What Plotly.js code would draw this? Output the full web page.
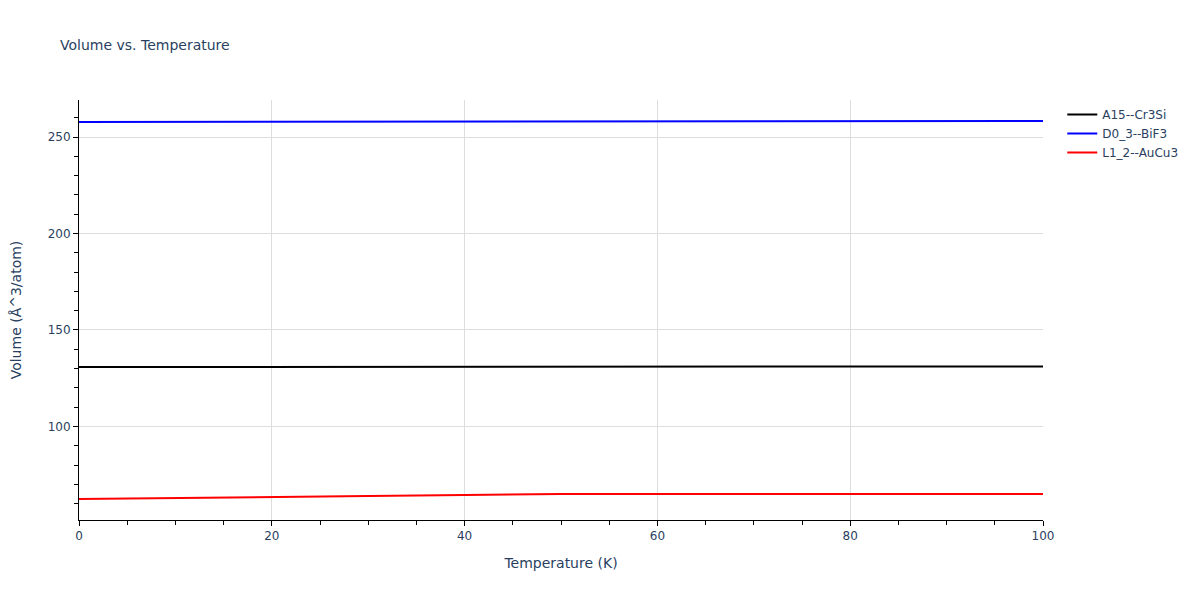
<!DOCTYPE html>
<html>
<head>
<meta charset="utf-8">
<script src="https://cdn.plot.ly/plotly-3.0.1.min.js"></script>
</head>
<body style="margin:0">
<div id="chartDiv" style="width:1200px;height:600px"></div>
<script>
// temperatures (K)
var temps = [0, 10, 20, 30, 40, 50, 60, 70, 80, 90, 100];
// volume per atom for each structure
var volA15 = [130.8, 130.8, 130.85, 130.9, 130.9, 130.95, 131.0, 131.0, 131.05, 131.1, 131.1];
var volD03 = [257.8, 257.85, 257.9, 257.95, 258.0, 258.0, 258.05, 258.1, 258.15, 258.2, 258.3];
var volL12 = [62.4, 62.8, 63.3, 63.9, 64.5, 65.0, 65.0, 65.0, 65.0, 65.0, 65.0];

var names = ['A15--Cr3Si', 'D0_3--BiF3', 'L1_2--AuCu3'];
var colors = ['black', 'blue', 'red'];
var series = [volA15, volD03, volL12];

var data = [];
for (var i = 0; i < series.length; i++) {
    data.push({
        x: temps,
        y: series[i],
        type: 'scatter',
        mode: 'lines',
        name: names[i],
        line: {color: colors[i], width: 2}
    });
}

var axisStyle = {
    showline: true,
    linecolor: 'black',
    linewidth: 1,
    ticks: 'outside',
    tickcolor: 'black',
    gridcolor: '#dddddd',
    zeroline: false,
    minor: {ticks: 'outside', tickcolor: 'black', ticklen: 4, showgrid: false}
};

var layout = {
    font: {family: 'DejaVu Sans', color: '#2a3f5f', size: 12},
    title: {text: 'Volume vs. Temperature', x: 0.05, font: {size: 14}},
    paper_bgcolor: 'white',
    plot_bgcolor: 'white',
    margin: {l: 79, r: 157, t: 100, b: 80},
    xaxis: Object.assign({}, axisStyle, {
        title: {text: 'Temperature (K)', font: {size: 14}, standoff: 15},
        range: [0, 100],
        dtick: 20
    }),
    yaxis: Object.assign({}, axisStyle, {
        title: {text: 'Volume (Å^3/atom)', font: {size: 14}, standoff: 22},
        dtick: 50
    }),
    legend: {x: 1.02, y: 1, font: {size: 12}},
    showlegend: true
};

Plotly.newPlot('chartDiv', data, layout, {displayModeBar: false});
</script>
</body>
</html>
